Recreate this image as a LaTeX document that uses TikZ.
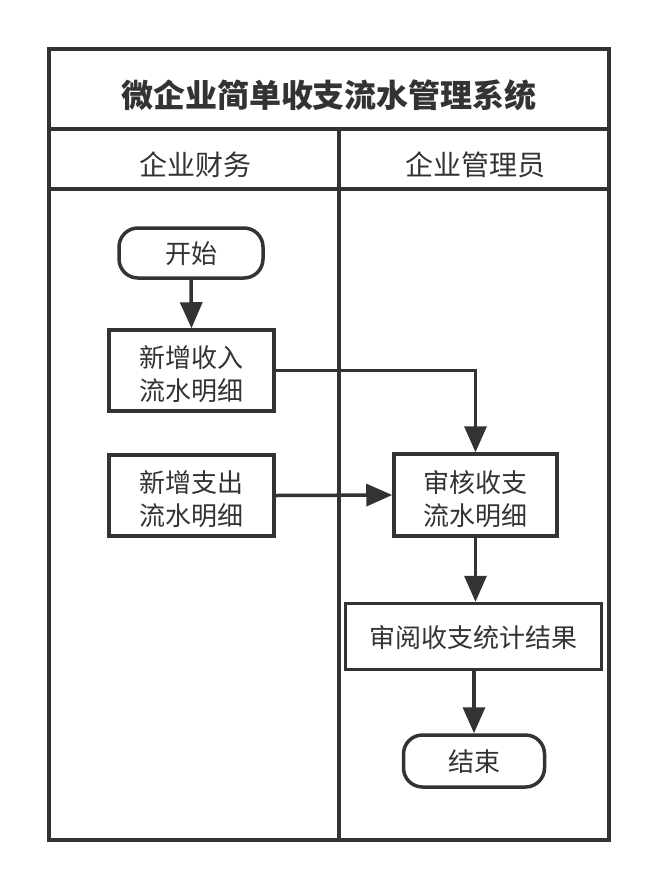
\documentclass[tikz,border=0pt]{standalone}
\usepackage{fontspec}
\setmainfont{Noto Sans CJK SC}
\usetikzlibrary{arrows.meta}
\definecolor{ink}{HTML}{333333}
\newcommand\lowt[2]{\raisebox{-#1}[\height][\depth]{\begin{tabular}{@{}c@{}}#2\end{tabular}}}
\tikzset{
  box/.style={draw=ink, line width=3.5pt, fill=white, text=ink, font=\fontsize{26}{33}\selectfont, align=center, inner sep=0pt},
  term/.style={box, rounded corners=19pt},
  arr/.style={draw=ink, line width=3.5pt, -{Triangle[length=26pt,width=22pt]}},
  frame/.style={draw=ink, line width=4pt},
  lane/.style={text=ink, font=\fontsize{28}{34}\selectfont},
}
\begin{document}
\begin{tikzpicture}[x=1pt,y=-1pt]
\useasboundingbox (0,0) rectangle (661,892);
% frame
\draw[frame] (49,49) rectangle (609,840);
\draw[frame] (49,129) -- (609,129);
\draw[frame] (49,189) -- (609,189);
\draw[frame] (339,129) -- (339,840);
% titles
\node[text=ink, font=\fontsize{32}{38}\selectfont\bfseries] (title) at (329,95.5) {微企业简单收支流水管理系统};
\node[lane] (laneA) at (195,164.5) {企业财务};
\node[lane] (laneB) at (475,164.5) {企业管理员};
% nodes
\node[term, minimum width=144pt, minimum height=50pt] (start) at (191,253) {\lowt{4pt}{开始}};
\node[box, minimum width=165pt, minimum height=81pt] (inc) at (191.5,370.5) {\lowt{7pt}{新增收入\\流水明细}};
\node[box, minimum width=165pt, minimum height=81pt] (exp) at (191.5,495.5) {\lowt{7pt}{新增支出\\流水明细}};
\node[box, minimum width=163pt, minimum height=82pt] (audit) at (475.5,495) {\lowt{7pt}{审核收支\\流水明细}};
\node[box, minimum width=256pt, minimum height=66pt] (review) at (473.5,636.5) {\lowt{4pt}{审阅收支统计结果}};
\node[term, minimum width=141pt, minimum height=52pt] (end) at (474,761) {\lowt{4pt}{结束}};
% connectors
\draw[arr] (start.south) -- (inc.north);
\draw[arr] (inc.east) -| (audit.north);
\draw[arr] (exp.east) -- (audit.west);
\draw[arr] (audit.south) -- (audit.south |- review.north);
\draw[arr] (review.south -| end.north) -- (end.north);
\end{tikzpicture}
\end{document}
